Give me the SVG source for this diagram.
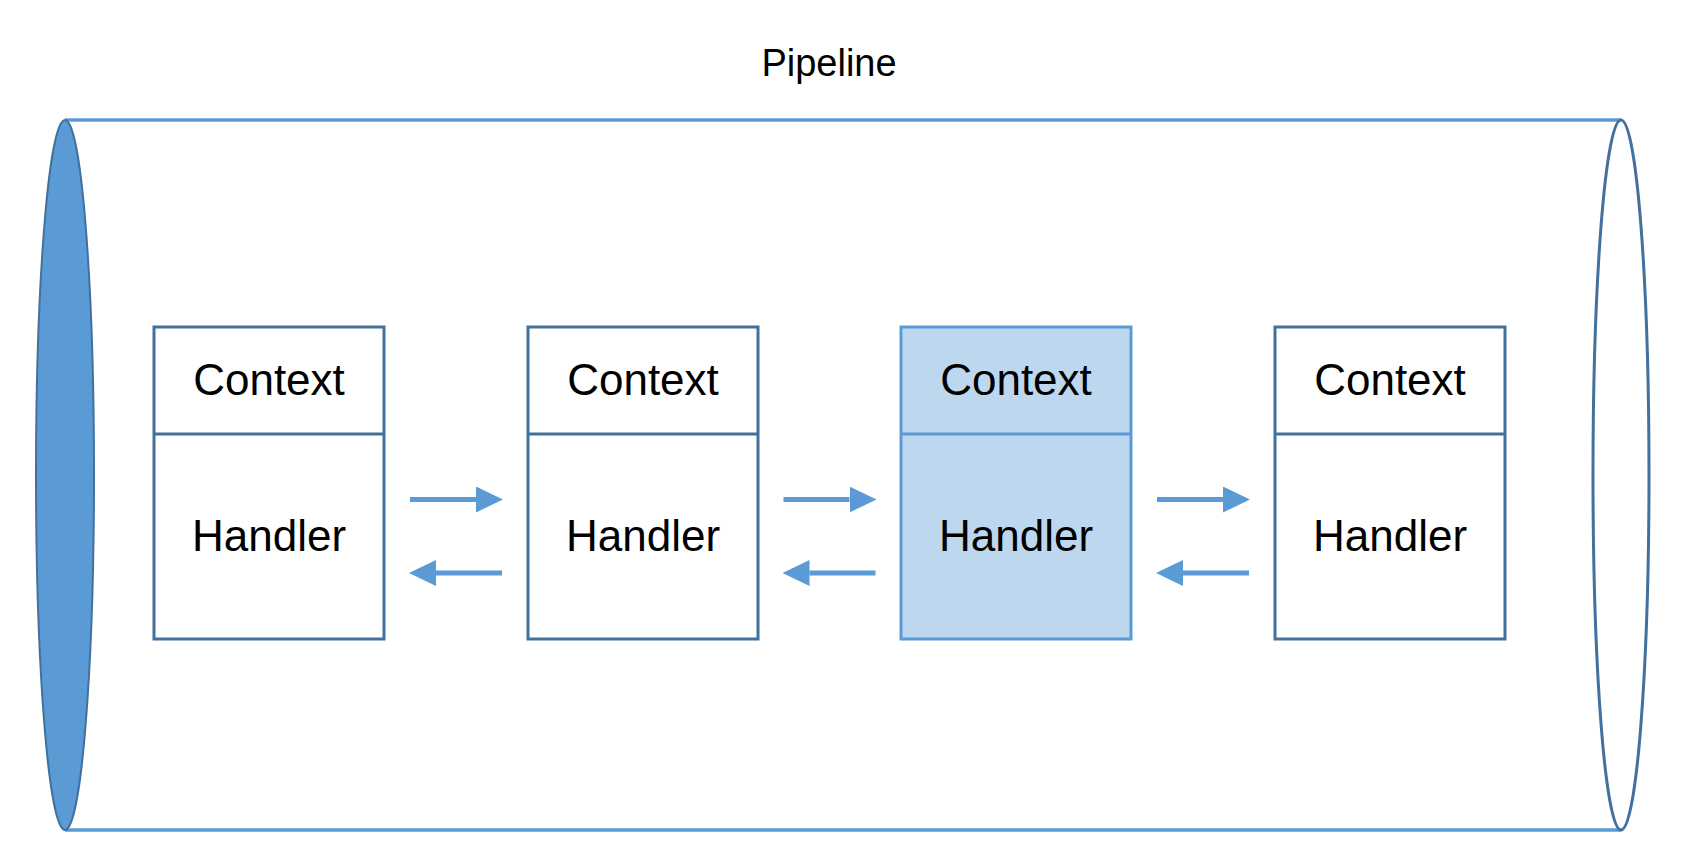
<svg xmlns="http://www.w3.org/2000/svg" width="1692" height="866" viewBox="0 0 1692 866">
<style>
.box{fill:#ffffff;stroke:#41719C;stroke-width:3}
.hl{fill:#BDD7EE;stroke:#5B9BD5;stroke-width:3}
.lbl{font-family:"Liberation Sans",Arial,sans-serif;font-size:44px;fill:#000;text-anchor:middle}
.title{font-family:"Liberation Sans",Arial,sans-serif;font-size:38px;fill:#000;text-anchor:middle}
.pipe{stroke:#5B9BD5;stroke-width:3.5;fill:none}
.arr{stroke:#5B9BD5;stroke-width:5;fill:none}
</style>
<defs>
<marker id="ah" markerUnits="userSpaceOnUse" markerWidth="27" markerHeight="26" refX="0" refY="13" orient="auto">
<path d="M0,0 L27,13 L0,26 z" fill="#5B9BD5"/>
</marker>
</defs>
<rect width="1692" height="866" fill="#ffffff"/>
<g id="pipeline">
<text class="title" x="829" y="76">Pipeline</text>
<line class="pipe" x1="65" y1="120" x2="1621" y2="120"/>
<line class="pipe" x1="65" y1="830" x2="1621" y2="830"/>
<ellipse cx="65" cy="475" rx="29" ry="355" fill="#5B9BD5" stroke="#41719C" stroke-width="2"/>
<ellipse cx="1621" cy="475" rx="28" ry="355" fill="none" stroke="#41719C" stroke-width="3"/>
</g>
<g id="node1">
<rect class="box" x="154" y="327" width="230" height="312"/>
<line class="box" x1="154" y1="434" x2="384" y2="434"/>
<text class="lbl" x="269" y="395">Context</text>
<text class="lbl" x="269" y="551">Handler</text>
</g>
<g id="node2">
<rect class="box" x="528" y="327" width="230" height="312"/>
<line class="box" x1="528" y1="434" x2="758" y2="434"/>
<text class="lbl" x="643" y="395">Context</text>
<text class="lbl" x="643" y="551">Handler</text>
</g>
<g id="node3">
<rect class="hl" x="901" y="327" width="230" height="312"/>
<line class="hl" x1="901" y1="434" x2="1131" y2="434"/>
<text class="lbl" x="1016" y="395">Context</text>
<text class="lbl" x="1016" y="551">Handler</text>
</g>
<g id="node4">
<rect class="box" x="1275" y="327" width="230" height="312"/>
<line class="box" x1="1275" y1="434" x2="1505" y2="434"/>
<text class="lbl" x="1390" y="395">Context</text>
<text class="lbl" x="1390" y="551">Handler</text>
</g>
<g id="connectors">
<line class="arr" x1="410" y1="499.5" x2="476" y2="499.5" marker-end="url(#ah)"/>
<line class="arr" x1="502" y1="573" x2="436" y2="573" marker-end="url(#ah)"/>
<line class="arr" x1="783.5" y1="499.5" x2="849.5" y2="499.5" marker-end="url(#ah)"/>
<line class="arr" x1="875.5" y1="573" x2="809.5" y2="573" marker-end="url(#ah)"/>
<line class="arr" x1="1157" y1="499.5" x2="1223" y2="499.5" marker-end="url(#ah)"/>
<line class="arr" x1="1249" y1="573" x2="1183" y2="573" marker-end="url(#ah)"/>
</g>
</svg>
